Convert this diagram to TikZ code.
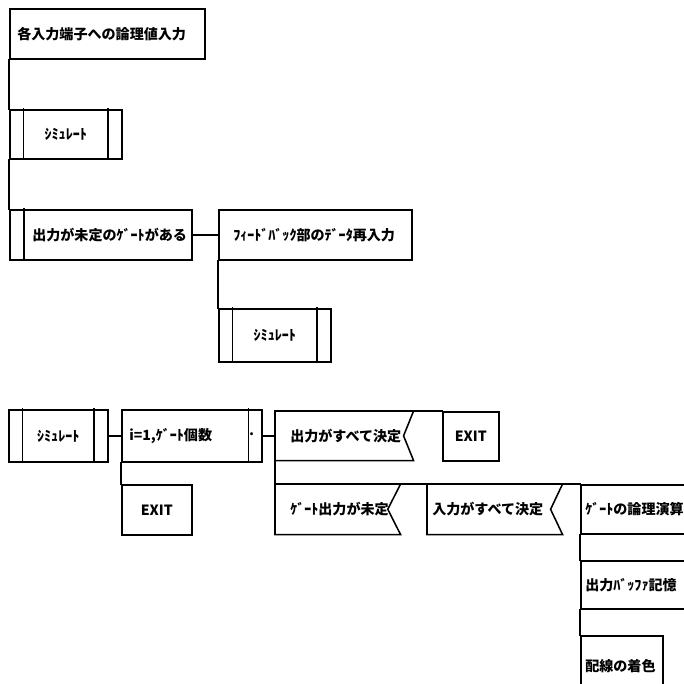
\documentclass[tikz,border=0pt]{standalone}
\usepackage{fontspec}
\newfontfamily\jp{Noto Sans CJK JP}
\usetikzlibrary{positioning}

\begin{document}
\begin{tikzpicture}[x=0.25mm, y=-0.25mm, line cap=rect, line join=miter,
    font=\jp\bfseries\fontsize{10pt}{12pt}\selectfont,
    box/.style={draw, line width=1.1pt, anchor=north west, inner sep=0pt},
    cond/.style={anchor=north west, inner sep=0pt},
    txt/.style={inner sep=0pt},
    conn/.style={line width=1.1pt}]
  \useasboundingbox (0,0) rectangle (684,683);
  \clip (0,0) rectangle (684,683);
  % first chart
  \node[box, minimum width=48.75mm, minimum height=12.5mm] (top) at (9,8) {};
  \node[txt, right=2mm of top.west] (topt) {各入力端子への論理値入力};
  \node[box, minimum width=28mm, minimum height=12.25mm] (sim1) at (9,109) {ｼﾐｭﾚｰﾄ};
  \node[box, minimum width=45.5mm, minimum height=12.5mm] (cnd) at (9,209) {};
  \node[txt, right=5.75mm of cnd.west] (cndt) {出力が未定のｹﾞｰﾄがある};
  \node[box, minimum width=48.25mm, minimum height=12.5mm] (fb) at (218,209) {};
  \node[txt, right=3.75mm of fb.west] (fbt) {ﾌｨｰﾄﾞﾊﾞｯｸ部のﾃﾞｰﾀ再入力};
  \node[box, minimum width=28mm, minimum height=13.25mm] (sim2) at (218,308) {ｼﾐｭﾚｰﾄ};
  \draw[conn] (top.south west) -- (sim1.north west);
  \draw[conn] (sim1.south west) -- (cnd.north west);
  \draw[conn] (cnd.east) -- (fb.west);
  \draw[conn] (fb.south west) -- (sim2.north west);
  \draw[conn] ([xshift=3.75mm]cnd.north west) -- ([xshift=3.75mm]cnd.south west);
  % second chart
  \node[box, minimum width=24.75mm, minimum height=13mm] (sim3) at (8,409) {ｼﾐｭﾚｰﾄ};
  \node[box, minimum width=35mm, minimum height=13mm] (loop) at (121,409) {};
  \node[txt, right=2mm of loop.west] (loopt) {i=1,ｹﾞｰﾄ個数};
  \node[txt, left=1.6mm of loop.east] (ldot) {·};
  \node[box, minimum width=17.5mm, minimum height=12.5mm] (exit1) at (121,484) {EXIT};
  \node[cond, minimum width=34.5mm, minimum height=12.25mm] (c1) at (275,411) {};
  \node[txt, right=3.75mm of c1.west] (c1t) {出力がすべて決定};
  \node[box, minimum width=14mm, minimum height=12.25mm] (exit2) at (442,411) {EXIT};
  \node[cond, minimum width=31.25mm, minimum height=12.5mm] (c2) at (275,484) {};
  \node[txt, right=3.75mm of c2.west] (c2t) {ｹﾞｰﾄ出力が未定};
  \node[cond, minimum width=33.75mm, minimum height=12.5mm] (c3) at (427,484) {};
  \node[txt, right=1.25mm of c3.west] (c3t) {入力がすべて決定};
  \node[box, minimum width=30mm, minimum height=12.25mm] (a1) at (580,484) {};
  \node[txt, right=1.25mm of a1.west] (a1t) {ｹﾞｰﾄの論理演算};
  \node[box, minimum width=30mm, minimum height=12mm] (a2) at (580,560) {};
  \node[txt, right=1.25mm of a2.west] (a2t) {出力ﾊﾞｯﾌｧ記憶};
  \node[box, minimum width=20.5mm, minimum height=15mm] (a3) at (580,635) {};
  \node[txt, right=1.25mm of a3.west] (a3t) {配線の着色};
  \foreach \n/\d in {c1/2.5mm, c2/3.2mm, c3/3mm}
    \draw[conn] (\n.north west) -- (\n.north east) -- ([xshift=-\d]\n.east)
      -- (\n.south east) -- (\n.south west) -- cycle;
  \draw[conn] (sim3.east) -- (loop.west);
  \draw[conn] (loop.south west) -- (exit1.north west);
  \draw[conn] (loop.east) -- (loop.east -| c1.west);
  \draw[conn] (c1.north west) -- (exit2.north west);
  \draw[conn] (c1.south west) -- (c2.north west);
  \draw[conn] (c2.north west) -- (a1.north west);
  \draw[conn] (a1.south west) -- (a2.north west);
  \draw[conn] (a2.south west) -- (a3.north west);
  \draw[conn] ([xshift=-3.5mm]loop.north east) -- ([xshift=-3.5mm]loop.south east);
  % double bars
  \foreach \n in {sim1,sim2,sim3} {
    \draw[conn] ([xshift=3.6mm]\n.north west) -- ([xshift=3.6mm]\n.south west);
    \draw[conn] ([xshift=-3.6mm]\n.north east) -- ([xshift=-3.6mm]\n.south east);
  }
\end{tikzpicture}
\end{document}
